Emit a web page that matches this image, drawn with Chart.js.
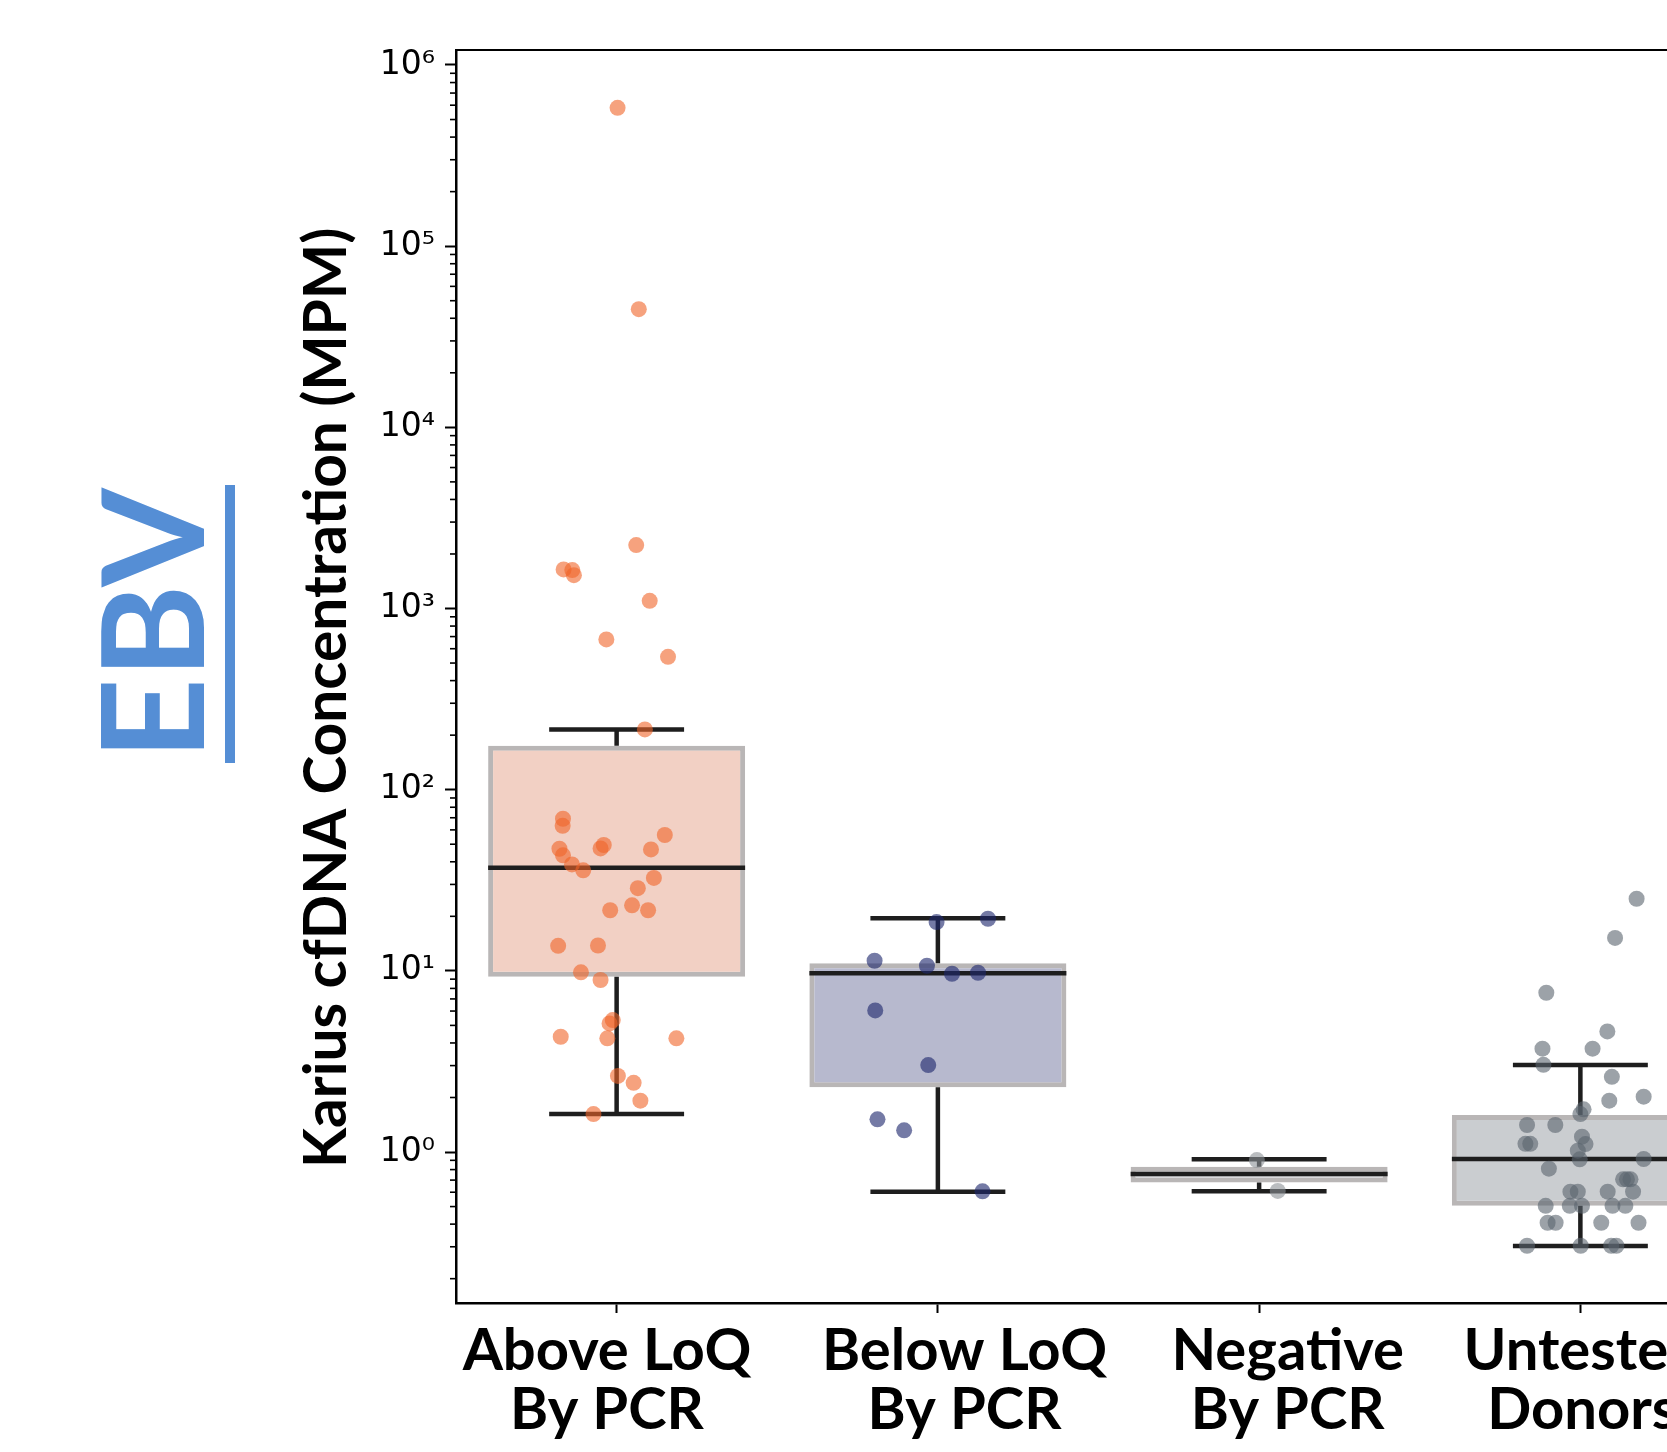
<!DOCTYPE html>
<html>
<head>
<meta charset="utf-8">
<title>EBV cfDNA</title>
<script src="https://cdn.jsdelivr.net/npm/chart.js@4.4.1/dist/chart.umd.min.js"></script>
<style>
  html, body { margin: 0; padding: 0; background: #fff; overflow: hidden; }
  #wrap { position: relative; width: 1667px; height: 1452px; overflow: hidden; }
  #chart { position: absolute; left: 0; top: 0; }
  #ebv {
    position: absolute; left: 78px; top: 763px; width: 278px;
    transform-origin: 0 0; transform: rotate(-90deg);
    font: 700 142px Lato; line-height: 142px; color: #558ed5;
    text-align: center; white-space: nowrap;
    padding-bottom: 5px; border-bottom: 10px solid #558ed5;
  }
</style>
</head>
<body>
<div id="wrap">
  <canvas id="chart" width="1760" height="1452"></canvas>
  <div id="ebv">EBV</div>
</div>
<script>
// categories (x axis, two lines each)
const categories = [['Above LoQ', 'By PCR'], ['Below LoQ', 'By PCR'], ['Negative', 'By PCR'], ['Untested', 'Donors']];

// box statistics, MPM
const whiskerLow  = [1.62, 0.604, 0.607, 0.303];
const q1          = [9.28, 2.28, 0.68, 0.505];
const median      = [37.1, 9.69, 0.756, 0.915];
const q3          = [175, 11.0, 0.83, 1.60];
const whiskerHigh = [215, 19.5, 0.911, 3.02];

// y tick labels (powers of ten)
const yTicks = [1, 10, 100, 1000, 10000, 100000, 1000000];

// individual samples + horizontal jitter
const aboveValues = [580000, 44900, 2239, 1644, 1630, 1528, 1103, 675, 541, 215, 69.1, 63.2, 56.2, 49.5, 47.4, 47.2, 46.8, 43.4, 38.7, 35.9, 32.6, 28.6, 23.0, 21.6, 21.6, 13.75, 13.8, 9.81, 8.90, 5.35, 5.13, 4.33, 4.24, 4.24, 2.63, 2.41, 1.92, 1.62];
const aboveJitter = [0.003, 0.069, 0.061, -0.165, -0.138, -0.133, 0.103, -0.032, 0.160, 0.088, -0.167, -0.168, 0.150, -0.040, -0.050, -0.178, 0.107, -0.167, -0.139, -0.104, 0.116, 0.066, 0.048, -0.020, 0.098, -0.182, -0.058, -0.111, -0.050, -0.012, -0.022, -0.174, -0.029, 0.186, 0.004, 0.053, 0.074, -0.072];

const belowValues = [18.6, 19.4, 11.37, 10.67, 9.64, 9.76, 6.05, 3.02, 1.515, 1.318, 0.607];
const belowJitter = [-0.004, 0.156, -0.197, -0.034, 0.044, 0.125, -0.195, -0.030, -0.188, -0.105, 0.139];

const negativeValues = [0.903, 0.61];
const negativeJitter = [-0.007, 0.058];

const untestedValues = [25.0, 15.2, 7.57, 4.63, 3.72, 3.72, 3.03, 2.60, 1.92, 2.02, 1.72, 1.62, 1.41, 1.41, 1.11, 1.11, 1.215, 1.107, 1.017, 0.911, 0.915, 0.809, 0.707, 0.707, 0.707, 0.604, 0.604, 0.604, 0.604, 0.505, 0.505, 0.505, 0.505, 0.505, 0.407, 0.407, 0.407, 0.407, 0.304, 0.304, 0.304, 0.304];
const untestedJitter = [0.175, 0.108, -0.106, 0.084, -0.118, 0.038, -0.115, 0.098, 0.090, 0.197, 0.010, 0.0, -0.166, -0.078, -0.171, -0.156, 0.005, 0.016, -0.008, -0.002, 0.197, -0.098, 0.133, 0.156, 0.145, -0.031, -0.008, 0.085, 0.164, -0.108, -0.033, 0.005, 0.100, 0.140, -0.102, -0.077, 0.065, 0.181, -0.166, 0.001, 0.096, 0.112];

const boxFill = ['rgb(242,208,196)', 'rgb(183,185,206)', 'rgb(216,218,221)', 'rgb(202,205,208)'];
const dotColor = ['rgba(240,100,40,0.6)', 'rgba(30,40,110,0.62)', 'rgba(140,145,150,0.6)', 'rgba(90,100,110,0.6)'];

const boxHalf = 0.4;
const capHalf = 0.21;
// the category captions sit a little off their tick marks in the original
const labelShift = [-0.03, 0.083, 0.089, 0.006];

function strip(values, jitter, idx) {
  return values.map((v, k) => ({ x: idx + jitter[k], y: v }));
}

// whiskers, caps and medians as one broken line
const lineData = [];
categories.forEach((c, i) => {
  const gap = { x: i, y: null };
  lineData.push({ x: i, y: q3[i] }, { x: i, y: whiskerHigh[i] }, gap);
  lineData.push({ x: i - capHalf, y: whiskerHigh[i] }, { x: i + capHalf, y: whiskerHigh[i] }, gap);
  lineData.push({ x: i, y: q1[i] }, { x: i, y: whiskerLow[i] }, gap);
  lineData.push({ x: i - capHalf, y: whiskerLow[i] }, { x: i + capHalf, y: whiskerLow[i] }, gap);
  lineData.push({ x: i - boxHalf, y: median[i] }, { x: i + boxHalf, y: median[i] }, gap);
});

const sup = { '-': '⁻', '0': '⁰', '1': '¹', '2': '²', '3': '³', '4': '⁴', '5': '⁵', '6': '⁶', '7': '⁷', '8': '⁸', '9': '⁹' };

// small log ticks between the decades
const minorTicks = {
  id: 'minorTicks',
  afterDraw(chart) {
    const y = chart.scales.y;
    const ctx = chart.ctx;
    const left = chart.chartArea.left;
    ctx.save();
    ctx.strokeStyle = '#000';
    ctx.lineWidth = 1.6;
    for (let e = -1; e < 7; e++) {
      for (let m = 2; m < 10; m++) {
        const v = m * Math.pow(10, e);
        if (v < y.min || v > y.max) continue;
        const py = y.getPixelForValue(v);
        ctx.beginPath();
        ctx.moveTo(left - 6, py);
        ctx.lineTo(left, py);
        ctx.stroke();
      }
    }
    ctx.restore();
  }
};

const dots = (values, jitter, idx) => ({
  type: 'scatter',
  data: strip(values, jitter, idx),
  backgroundColor: dotColor[idx],
  pointRadius: 8,
  pointHoverRadius: 8,
  pointBorderWidth: 0,
  order: 0
});

new Chart(document.getElementById('chart'), {
  type: 'scatter',
  data: {
    datasets: [
      {
        type: 'bar',
        data: categories.map((c, i) => ({ x: i, y: [q1[i], q3[i]] })),
        backgroundColor: boxFill,
        borderColor: 'rgba(115,110,110,0.5)',
        borderWidth: 5,
        borderSkipped: false,
        barPercentage: 1,
        categoryPercentage: 2 * boxHalf,
        order: 2
      },
      {
        type: 'line',
        data: lineData,
        borderColor: 'rgb(30,30,30)',
        borderWidth: 4.5,
        pointRadius: 0,
        tension: 0,
        spanGaps: false,
        fill: false,
        order: 1
      },
      dots(aboveValues, aboveJitter, 0),
      dots(belowValues, belowJitter, 1),
      dots(negativeValues, negativeJitter, 2),
      dots(untestedValues, untestedJitter, 3)
    ]
  },
  options: {
    responsive: false,
    animation: false,
    devicePixelRatio: 1,
    layout: { padding: { top: 50, right: 19, left: 0, bottom: 0 } },
    plugins: { legend: { display: false }, tooltip: { enabled: false } },
    scales: {
      x: {
        type: 'linear',
        position: 'bottom',
        weight: 0,
        min: -0.5,
        max: 3.5,
        offset: false,
        afterBuildTicks: s => { s.ticks = categories.map((c, i) => ({ value: i })); },
        afterFit: s => { s.height = 10; },
        grid: { offset: false, drawOnChartArea: false, drawTicks: true, tickLength: 10, tickWidth: 2, tickColor: '#000' },
        border: { display: true, color: '#000', width: 2.5 },
        ticks: { display: false }
      },
      xLabels: {
        type: 'linear',
        axis: 'x',
        position: 'bottom',
        weight: 1,
        min: -0.5,
        max: 3.5,
        offset: false,
        afterBuildTicks: s => { s.ticks = categories.map((c, i) => ({ value: i + labelShift[i] })); },
        afterFit: s => { s.height = 139; },
        grid: { display: false, drawTicks: false },
        border: { display: false },
        ticks: {
          callback: (v, i) => categories[i],
          autoSkip: false,
          maxRotation: 0,
          padding: 9,
          color: '#000',
          font: { family: 'Lato', size: 58, weight: 'bold', lineHeight: 1.02 }
        }
      },
      x2: {
        type: 'linear',
        position: 'top',
        min: -0.5,
        max: 3.5,
        afterFit: s => { s.height = 0; },
        grid: { drawOnChartArea: false, drawTicks: false },
        border: { display: true, color: '#000', width: 2 },
        ticks: { display: false }
      },
      y: {
        type: 'logarithmic',
        position: 'left',
        min: 0.1468,
        max: 1.21e6,
        afterBuildTicks: s => { s.ticks = yTicks.map(v => ({ value: v, major: true })); },
        afterFit: s => { s.width = 456; },
        grid: { drawOnChartArea: false, drawTicks: true, tickLength: 11, tickWidth: 2, tickColor: '#000' },
        border: { display: true, color: '#000', width: 2.5 },
        ticks: {
          callback: v => '10' + String(Math.round(Math.log10(v))).split('').map(ch => sup[ch]).join(''),
          padding: 10,
          color: '#000',
          font: { family: 'DejaVu Sans', size: 33 }
        },
        title: {
          display: true,
          // trailing spaces nudge the centred caption down to where the original has it
          text: 'Karius cfDNA Concentration (MPM)   ',
          color: '#000',
          padding: { top: 292, bottom: 0 },
          font: { family: 'Lato', size: 58.6, weight: 'bold' }
        }
      }
    }
  },
  plugins: [minorTicks]
});
</script>
</body>
</html>
